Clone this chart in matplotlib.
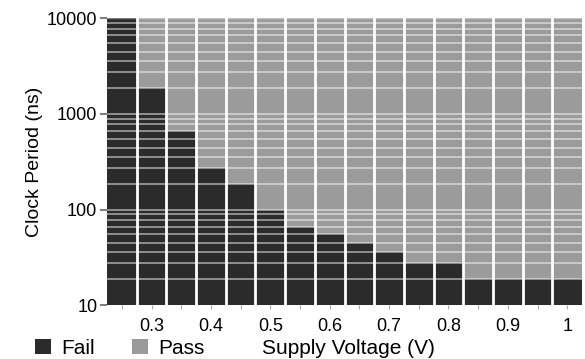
import numpy as np
import matplotlib.pyplot as plt
from matplotlib.colors import ListedColormap
from matplotlib.patches import Patch

plt.rcParams['font.family'] = ['Liberation Sans', 'DejaVu Sans']

# supply voltages swept (V), one column each
voltage = [0.25, 0.30, 0.35, 0.40, 0.45, 0.50, 0.55, 0.60,
           0.65, 0.70, 0.75, 0.80, 0.85, 0.90, 0.95, 1.00]

# clock period rows (ns), given as row boundaries
period_edges = [10, 18.6, 27.4, 35.7, 44.4, 55.2, 66.4, 78, 89.3,
                100, 186, 274, 357, 444, 552, 664, 780, 893,
                1000, 1860, 2740, 3570, 4440, 5520, 6640, 7800, 8930, 10000]

# shortest clock period that still passes at each voltage (0.25 V never passes)
min_pass_period = [np.inf, 1860, 664, 274, 186, 100, 66.4, 55.2,
                   44.4, 35.7, 27.4, 27.4, 18.6, 18.6, 18.6, 18.6]

fail_color = '#2b2b2b'
pass_color = '#9b9b9b'

step = 0.05
v_edges = np.append(np.array(voltage) - step / 2, voltage[-1] + step / 2)
rows = np.array(period_edges[:-1])
result = (rows[:, None] >= np.array(min_pass_period)[None, :]).astype(int)

fig = plt.figure(figsize=(5.85, 3.59), dpi=100)
ax = fig.add_axes([0.183, 0.150, 0.812, 0.799])

ax.pcolormesh(v_edges, period_edges, result,
              cmap=ListedColormap([fail_color, pass_color]), vmin=0, vmax=1)

for y in period_edges[1:-1]:
    ax.axhline(y, color='white', alpha=0.55, lw=1.2)
ax.axhline(period_edges[-1], color='white', alpha=0.4, lw=1.0)
for x in v_edges[1:-1]:
    ax.axvline(x, color='white', lw=2)

ax.set_yscale('log')
ax.set_ylim(10, 10000)
ax.set_xlim(v_edges[0], v_edges[-1])
ax.set_yticks([10, 100, 1000, 10000])
ax.set_yticklabels(['10', '100', '1000', '10000'])
ax.minorticks_off()
ax.set_xticks(voltage)
ax.set_xticklabels(['' if i % 2 == 0 else ('1' if v == 1.0 else '%.1f' % v)
                    for i, v in enumerate(voltage)])

for s in ax.spines.values():
    s.set_visible(False)
ax.tick_params(axis='y', length=5, width=1.2, color='#666666', labelsize=13, pad=2)
ax.tick_params(axis='x', length=3, width=0.8, color='#aaaaaa', labelsize=13, pad=6)

ax.set_ylabel('Clock Period (ns)', fontsize=14, labelpad=3)
fig.text(0.595, 0.028, 'Supply Voltage (V)', fontsize=15, ha='center', va='center')

handles = [Patch(facecolor=fail_color, edgecolor='none'),
           Patch(facecolor=pass_color, edgecolor='none')]
fig.legend(handles, ['Fail', 'Pass'], ncol=2, loc='center left',
           bbox_to_anchor=(0.06, 0.03), frameon=False, fontsize=15,
           handlelength=0.75, handleheight=0.75, handletextpad=0.5,
           columnspacing=1.8, borderpad=0, borderaxespad=0)

fig.savefig('out.png', dpi=100)
